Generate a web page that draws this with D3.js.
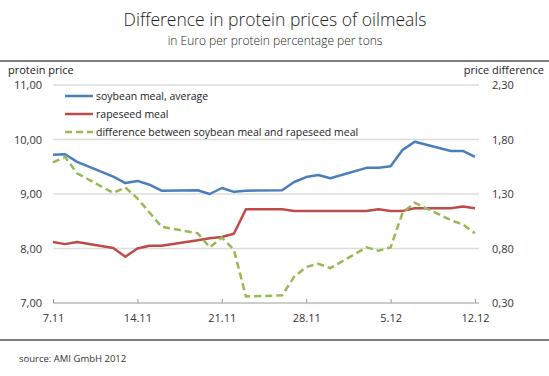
<!DOCTYPE html>
<html>
<head>
<meta charset="utf-8">
<script src="https://cdn.jsdelivr.net/npm/d3@7"></script>
<style>
  body { margin: 0; background: #fff; }
  svg { font-family: "Open Sans", sans-serif; }
</style>
</head>
<body>
<div id="chart"></div>
<script>
// trading days, 7.11.2012 - 12.12.2012
var dates = ["2012-11-07","2012-11-08","2012-11-09",
  "2012-11-12","2012-11-13","2012-11-14","2012-11-15","2012-11-16",
  "2012-11-19","2012-11-20","2012-11-21","2012-11-22","2012-11-23",
  "2012-11-26","2012-11-27","2012-11-28","2012-11-29","2012-11-30",
  "2012-12-03","2012-12-04","2012-12-05","2012-12-06","2012-12-07",
  "2012-12-10","2012-12-11","2012-12-12"];
var soybean = [9.72,9.73,9.59, 9.32,9.20,9.24,9.17,9.06, 9.07,9.00,9.11,9.04,9.06,
  9.07,9.22,9.31,9.35,9.29, 9.48,9.48,9.51,9.81,9.96, 9.79,9.79,9.68];
var rapeseed = [8.12,8.08,8.12, 8.01,7.85,8.00,8.05,8.05, 8.15,8.19,8.21,8.27,8.72,
  8.72,8.69,8.69,8.69,8.69, 8.69,8.72,8.69,8.69,8.74, 8.74,8.77,8.74];
var difference = [1.59,1.64,1.49, 1.31,1.36,1.26,1.13,1.00, 0.94,0.81,0.90,0.79,0.36,
  0.37,0.54,0.63,0.66,0.62, 0.81,0.78,0.81,1.13,1.22, 1.06,1.02,0.94];
var xTicks = ["2012-11-07","2012-11-14","2012-11-21","2012-11-28","2012-12-05","2012-12-12"];
var xTickLabels = ["7.11","14.11","21.11","28.11","5.12","12.12"];
var leftTicks = [7,8,9,10,11];
var rightTicks = [0.3,0.8,1.3,1.8,2.3];
var legendLabels = ["soybean meal, average","rapeseed meal","difference between soybean meal and rapeseed meal"];

var width = 549, height = 376;
var parse = d3.timeParse("%Y-%m-%d");
var fmt = d3.format(".2f");
var comma = function(v){ return fmt(v).replace(".", ","); };

var svg = d3.select("#chart").append("svg").attr("width", width).attr("height", height);

var x = d3.scaleTime().domain([parse(dates[0]), parse(dates[dates.length-1])]).range([53, 475]);
var yL = d3.scaleLinear().domain([7, 11]).range([303, 85]);
var yR = d3.scaleLinear().domain([0.3, 2.3]).range([303, 85]);

// titles
svg.append("text").attr("x", 275).attr("y", 26).attr("text-anchor", "middle")
  .attr("font-size", 17.5).attr("font-weight", 300).attr("fill", "#222")
  .text("Difference in protein prices of oilmeals");
svg.append("text").attr("x", 275).attr("y", 45).attr("text-anchor", "middle")
  .attr("font-size", 12).attr("font-weight", 300).attr("fill", "#222")
  .text("in Euro per protein percentage per tons");
svg.append("line").attr("x1", 0).attr("x2", width).attr("y1", 61).attr("y2", 61)
  .attr("stroke", "#555").attr("stroke-width", 1.5);
svg.append("line").attr("x1", 0).attr("x2", width).attr("y1", 340).attr("y2", 340)
  .attr("stroke", "#555").attr("stroke-width", 1.5);
svg.append("text").attr("x", 19).attr("y", 362).attr("font-size", 9.5).attr("fill", "#333")
  .text("source: AMI GmbH 2012");

svg.append("text").attr("x", 8).attr("y", 74).attr("font-size", 11).attr("fill", "#222").text("protein price");
svg.append("text").attr("x", 544).attr("y", 74).attr("text-anchor", "end").attr("font-size", 11).attr("fill", "#222").text("price difference");

// grid
svg.append("g").selectAll("line").data(leftTicks.slice(1)).enter().append("line")
  .attr("x1", 53).attr("x2", 479)
  .attr("y1", function(d){ return yL(d); }).attr("y2", function(d){ return yL(d); })
  .attr("stroke", "#dcdcdc").attr("stroke-width", 1.5);

// left labels
svg.append("g").selectAll("text").data(leftTicks).enter().append("text")
  .attr("x", 42).attr("y", function(d){ return yL(d) + 4; })
  .attr("text-anchor", "end").attr("font-size", 11).attr("fill", "#333")
  .text(function(d){ return comma(d); });
// right labels
svg.append("g").selectAll("text").data(rightTicks).enter().append("text")
  .attr("x", 492).attr("y", function(d){ return yR(d) + 4; })
  .attr("font-size", 11).attr("fill", "#333")
  .text(function(d){ return comma(d); });

// x axis
var xAxis = d3.axisBottom(x)
  .tickValues(xTicks.map(parse))
  .tickSizeInner(4).tickSizeOuter(0)
  .tickFormat(function(d, i){ return xTickLabels[i]; });
var gx = svg.append("g").attr("transform", "translate(0,303)").call(xAxis);
gx.select(".domain").attr("stroke", "#999").attr("d", "M53,0H479");
gx.selectAll(".tick line").attr("stroke", "#999").attr("y1", -4).attr("y2", 0);
gx.selectAll(".tick text").attr("font-size", 11).attr("fill", "#333")
  .attr("font-family", "Open Sans, sans-serif").attr("dy", "1.1em");

// lines
var lineL = d3.line().x(function(d, i){ return x(parse(dates[i])); }).y(function(d){ return yL(d); });
var lineR = d3.line().x(function(d, i){ return x(parse(dates[i])); }).y(function(d){ return yR(d); });

svg.append("path").datum(soybean).attr("d", lineL).attr("fill", "none")
  .attr("stroke", "#4a7ebb").attr("stroke-width", 2.5).attr("stroke-linejoin", "round");
svg.append("path").datum(rapeseed).attr("d", lineL).attr("fill", "none")
  .attr("stroke", "#be4b48").attr("stroke-width", 2.5).attr("stroke-linejoin", "round");
svg.append("path").datum(difference).attr("d", lineR).attr("fill", "none")
  .attr("stroke", "#98b954").attr("stroke-width", 2.5).attr("stroke-dasharray", "7,4");

// legend
var colors = ["#4a7ebb","#be4b48","#98b954"];
var leg = svg.append("g").selectAll("g").data(legendLabels).enter().append("g")
  .attr("transform", function(d, i){ return "translate(65," + [96, 114, 132][i] + ")"; });
leg.append("line").attr("x1", 0).attr("x2", 28).attr("y1", 0).attr("y2", 0)
  .attr("stroke", function(d, i){ return colors[i]; }).attr("stroke-width", 2.5)
  .attr("stroke-dasharray", function(d, i){ return i === 2 ? "7,4" : null; });
leg.append("text").attr("x", 31).attr("y", 4).attr("font-size", 10.5).attr("fill", "#222")
  .text(function(d){ return d; });
</script>
</body>
</html>
